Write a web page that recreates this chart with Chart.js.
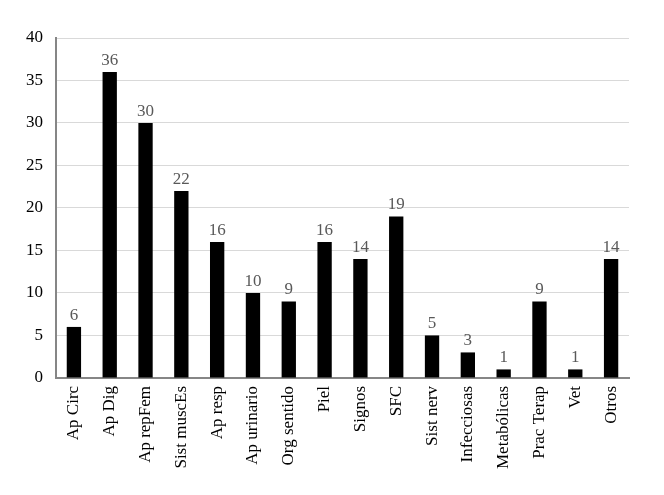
<!DOCTYPE html>
<html>
<head>
<meta charset="utf-8">
<script src="https://cdn.jsdelivr.net/npm/chart.js@4/dist/chart.umd.min.js"></script>
<style>
    html, body { margin: 0; padding: 0; background: #fff; }
    #wrap { width: 664px; height: 495px; }
</style>
</head>
<body>
<div id="wrap"><canvas id="chart"></canvas></div>
<script>
// categories and counts
const categories = [
    'Ap Circ', 'Ap Dig', 'Ap repFem', 'Sist muscEs', 'Ap resp', 'Ap urinario',
    'Org sentido', 'Piel', 'Signos', 'SFC', 'Sist nerv', 'Infecciosas',
    'Metabólicas', 'Prac Terap', 'Vet', 'Otros'
];
const counts = [6, 36, 30, 22, 16, 10, 9, 16, 14, 19, 5, 3, 1, 9, 1, 14];
const yTicks = [0, 5, 10, 15, 20, 25, 30, 35, 40];

const serif = "'Liberation Serif', 'DejaVu Serif', serif";

// draws the value above each bar
const valueLabels = {
    id: 'valueLabels',
    afterDatasetsDraw(chart) {
        const ctx = chart.ctx;
        const meta = chart.getDatasetMeta(0);
        ctx.save();
        ctx.font = `17px ${serif}`;
        ctx.fillStyle = '#595959';
        ctx.textAlign = 'center';
        ctx.textBaseline = 'bottom';
        meta.data.forEach((bar, i) => {
            ctx.fillText(String(counts[i]), bar.x, bar.y - 3);
        });
        ctx.restore();
    }
};

new Chart(document.getElementById('chart'), {
    type: 'bar',
    data: {
        labels: categories,
        datasets: [{
            data: counts,
            backgroundColor: '#000000',
            categoryPercentage: 1,
            barPercentage: 0.4
        }]
    },
    options: {
        responsive: true,
        maintainAspectRatio: false,
        animation: false,
        layout: { padding: { top: 38, right: 35, left: 13, bottom: 18 } },
        plugins: {
            legend: { display: false },
            tooltip: { enabled: false }
        },
        scales: {
            x: {
                grid: { display: false, drawTicks: false },
                border: { color: '#868686', width: 2 },
                ticks: {
                    color: '#000000',
                    font: { family: serif, size: 17 },
                    minRotation: 90,
                    maxRotation: 90,
                    autoSkip: false,
                    padding: 8
                }
            },
            y: {
                min: 0,
                max: 40,
                afterBuildTicks: (axis) => {
                    axis.ticks = yTicks.map(v => ({ value: v }));
                },
                grid: { color: '#d9d9d9', drawTicks: false },
                border: { color: '#868686', width: 2 },
                ticks: {
                    color: '#000000',
                    font: { family: serif, size: 17 },
                    padding: 13
                }
            }
        }
    },
    plugins: [valueLabels]
});
</script>
</body>
</html>
